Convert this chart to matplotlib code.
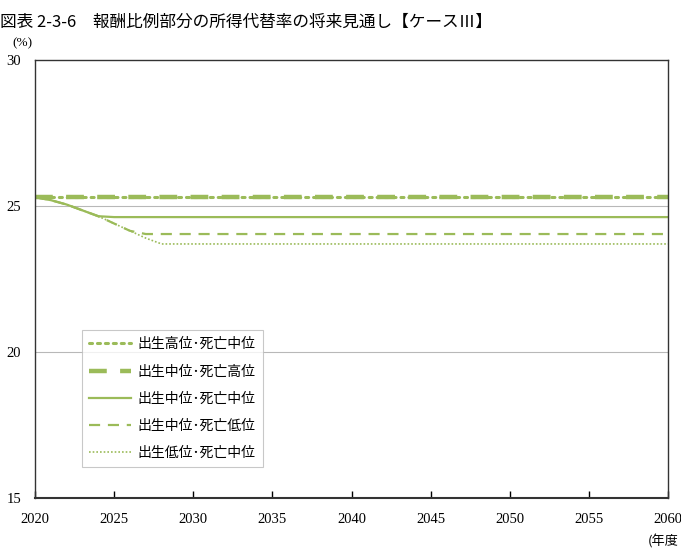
import matplotlib
matplotlib.use("Agg")
import matplotlib.pyplot as plt
import numpy as np

years = list(range(2020, 2061))
def flat_after(head, n_total, tail):
    return head + [tail] * (n_total - len(head))

n = len(years)
high_birth_mid_death = [25.3] * n
mid_birth_high_death = [25.3] * n
mid_birth_mid_death = flat_after([25.3, 25.2, 25.05, 24.85, 24.65], n, 24.62)
mid_birth_low_death = flat_after([25.3, 25.2, 25.05, 24.85, 24.65, 24.4, 24.15], n, 24.04)
low_birth_mid_death = flat_after([25.3, 25.2, 25.05, 24.85, 24.65, 24.4, 24.15, 23.9], n, 23.7)

labels = ["出生高位･死亡中位", "出生中位･死亡高位", "出生中位･死亡中位",
          "出生中位･死亡低位", "出生低位･死亡中位"]
xticks = list(range(2020, 2061, 5))
yticks = [15, 20, 25, 30]

green = "#9bbb59"
cjk = ["Noto Sans CJK JP", "DejaVu Sans"]
serif = ["Liberation Serif", "DejaVu Serif"]

fig = plt.figure(figsize=(6.81, 5.57), dpi=100)
ax = fig.add_axes([35/681, 1-498/557, 633/681, 438/557])

series = [high_birth_mid_death, mid_birth_high_death, mid_birth_mid_death,
          mid_birth_low_death, low_birth_mid_death]
styles = [
    dict(lw=2.2, linestyle=(0, (1, 1.6)), dash_capstyle="round"),
    dict(lw=3.2, linestyle=(0, (4, 3))),
    dict(lw=1.6, linestyle="-"),
    dict(lw=1.6, linestyle=(0, (5, 3.5))),
    dict(lw=1.2, linestyle=(0, (1, 1.2))),
]
order = [1, 0, 2, 3, 4]
handles = [None]*5
for i in order:
    h, = ax.plot(years, series[i], color=green, label=labels[i], **styles[i])
    handles[i] = h

ax.set_xlim(2020, 2060)
ax.set_ylim(15, 30)
ax.set_xticks(xticks)
ax.set_yticks(yticks)
ax.tick_params(axis="x", direction="in", length=5, width=1, pad=11, labelsize=10.5)
ax.tick_params(axis="y", length=0, pad=10, labelsize=10.5)
for lab in ax.get_xticklabels() + ax.get_yticklabels():
    lab.set_family(serif)
for y in [20, 25]:
    ax.axhline(y, color="#b8b8b8", lw=0.8, zorder=0)
for s in ax.spines.values():
    s.set_color("#333333")
    s.set_linewidth(1.0)
ax.spines["bottom"].set_linewidth(1.5)

leg = ax.legend(handles=handles, loc="lower left", bbox_to_anchor=(82/681, (557-467)/557),
                bbox_transform=fig.transFigure, frameon=True, fancybox=False,
                prop={"family": cjk, "size": 10}, handlelength=3.0,
                labelspacing=0.95, borderpad=0.5, handletextpad=0.5, borderaxespad=0)
leg.get_frame().set_edgecolor("#bbbbbb")
leg.get_frame().set_linewidth(0.8)

fig.text(0.0, 1-22/557, "図表 2-3-6　報酬比例部分の所得代替率の将来見通し【ケースⅢ】",
         family=cjk, fontsize=12, va="center", ha="left")
fig.text(12/681, 1-43/557, "(%)", family=serif, fontsize=9.5, va="center")
fig.text(679/681, 1-541/557, "(年度", family=cjk, fontsize=9.5, va="center", ha="right")

fig.savefig("out.png", dpi=100)
